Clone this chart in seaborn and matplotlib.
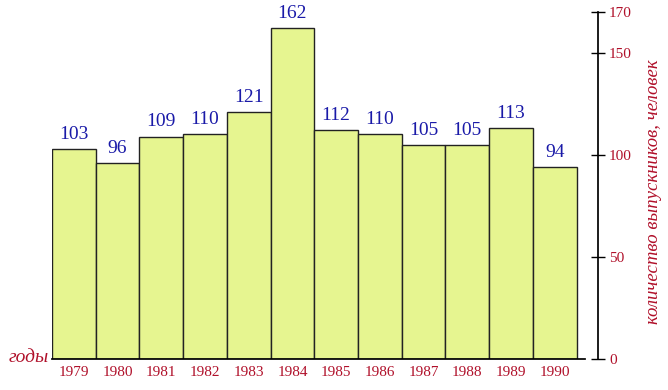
import matplotlib
matplotlib.use("Agg")
import matplotlib.pyplot as plt
import seaborn as sns
import pandas as pd

years = ["1979", "1980", "1981", "1982", "1983", "1984", "1985", "1986", "1987", "1988", "1989", "1990"]
graduates = [103, 96, 109, 110, 121, 162, 112, 110, 105, 105, 113, 94]
y_ticks = [0, 50, 100, 150, 170]

sns.set_theme(style="white")
plt.rcParams['font.family'] = ['Liberation Serif', 'DejaVu Serif']

df = pd.DataFrame({"year": years, "n": graduates})

fig = plt.figure(figsize=(6.68, 3.90), dpi=100)
ax = fig.add_axes([52/668, 1 - 359/390, (598 - 52)/668, (359 - 12)/390])

sns.barplot(data=df, x="year", y="n", order=years, width=1.0, color="#e6f590",
            saturation=1, edgecolor="#222222", linewidth=1.0, ax=ax)

red = "#b0102a"
blue = "#1a1aa8"
for i, v in enumerate(graduates):
    ax.text(i, v + 3, str(v), ha="center", va="bottom", color=blue, fontsize=14)

ax.set_xlim(-0.5, 11.99)
ax.set_ylim(0, 170)
ax.yaxis.tick_right()
ax.set_yticks(y_ticks)
ax.set_yticklabels([str(t) for t in y_ticks], color=red, fontsize=11)
ax.tick_params(axis="y", direction="inout", length=10, width=1, color="black", pad=3, right=True, left=False)
ax.tick_params(axis="x", length=0, pad=5)
ax.set_xticks(range(len(years)))
ax.set_xticklabels(years, color=red, fontsize=11)
ax.set_xlabel("")
ax.set_ylabel("")

for s in ["top", "left"]:
    ax.spines[s].set_visible(False)
ax.spines["right"].set_color("black")
ax.spines["bottom"].set_color("black")
ax.spines["bottom"].set_bounds(-0.5, 11.7)

fig.text(9/668, 1 - 358/390, "годы", color=red, fontsize=14, style="italic", ha="left", va="center")
fig.text(653/668, 1 - 192/390, "количество выпускников, человек", color=red, fontsize=13.5,
         style="italic", rotation=90, ha="center", va="center")

fig.savefig("out.png", dpi=100)
